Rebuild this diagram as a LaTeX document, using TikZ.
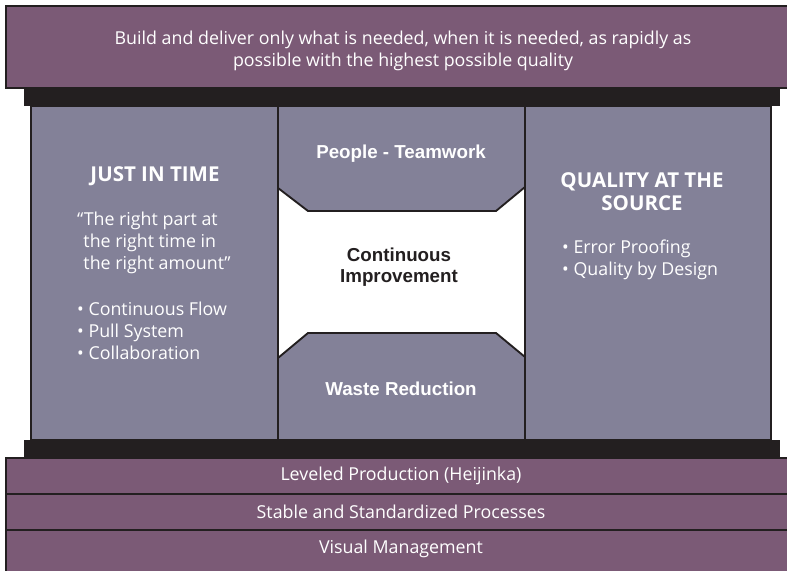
\documentclass[tikz,border=0pt]{standalone}
\usepackage{fontspec}
\setmainfont{Open Sans}
\newfontfamily\helvbold{Liberation Sans}[BoldFont={Liberation Sans Bold}]
\usetikzlibrary{positioning}

\definecolor{plum}{HTML}{7B5A76}
\definecolor{slate}{HTML}{838198}
\definecolor{ink}{HTML}{231F20}

\begin{document}
\begin{tikzpicture}[
        x=0.03cm, y=-0.03cm,
        band/.style={fill=plum, draw=ink, line width=1pt},
        pillar/.style={fill=slate, draw=ink, line width=1.6pt},
        beam/.style={fill=ink},
        label/.style={text=white, font=\fontsize{15.2}{18.8}\selectfont, align=center, inner sep=0pt},
        heading/.style={text=white, font=\fontsize{17.5}{19.6}\selectfont\bfseries, align=center, inner sep=0pt},
        listing/.style={text=white, font=\fontsize{15.2}{18.8}\selectfont, align=left, inner sep=0pt, anchor=west},
        middle/.style={font=\helvbold\fontsize{16}{17.9}\selectfont\bfseries, align=center, inner sep=0pt}
    ]
        \useasboundingbox (0,0) rectangle (787,571);

        % Roof and the beams holding it
        \draw[band] (6,6) rectangle (790,88);
        \fill[beam] (24,88) rectangle (780,106);
        \fill[beam] (24,440) rectangle (780,458);

        % Three pillars
        \draw[pillar] (31,106) rectangle (278,440);
        \draw[pillar] (525,106) rectangle (771,440);
        \fill[white] (278,106) rectangle (525,440);
        \draw[pillar] (278,106) -- (525,106) -- (525,187) -- (496,211)
            -- (308,211) -- (278,188) -- cycle;
        \draw[pillar] (278,440) -- (278,358) -- (308,333) -- (496,333)
            -- (525,357) -- (525,440) -- cycle;
        \draw[ink, line width=1.6pt] (278,188) -- (278,358);
        \draw[ink, line width=1.6pt] (525,187) -- (525,357);

        % Foundation layers
        \draw[band] (6,458) rectangle (790,494);
        \draw[band] (6,494) rectangle (790,530);
        \draw[band] (6,530) rectangle (790,575);

        % Texts
        \node[label] (roof) at (403,51) {Build and deliver only what is needed, when it is needed, as rapidly as\\possible with the highest possible quality};

        \node[heading] (jit) at (155,176) {JUST IN TIME};
        \node[listing] (jitquote) at (77,243) {“The right part at\\\phantom{“}the right time in\\\phantom{“}the right amount”};
        \node[listing] (jitlist) at (77,331) {• Continuous Flow\\• Pull System\\• Collaboration};

        \node[middle, text=white] (people) at (401,154) {People - Teamwork};
        \node[middle, text=ink] (ci) at (399,267) {Continuous\\Improvement};
        \node[middle, text=white] (waste) at (401,389) {Waste Reduction};

        \node[heading] (qas) at (642,191.5) {QUALITY AT THE\\SOURCE};
        \node[listing] (qaslist) at (562,260) {• Error Proofing\\• Quality by Design};

        \node[label] (heijinka) at (401,476) {Leveled Production (Heijinka)};
        \node[label] (stable) at (401,512) {Stable and Standardized Processes};
        \node[label] (visual) at (401,549) {Visual Management};
    \end{tikzpicture}
\end{document}
